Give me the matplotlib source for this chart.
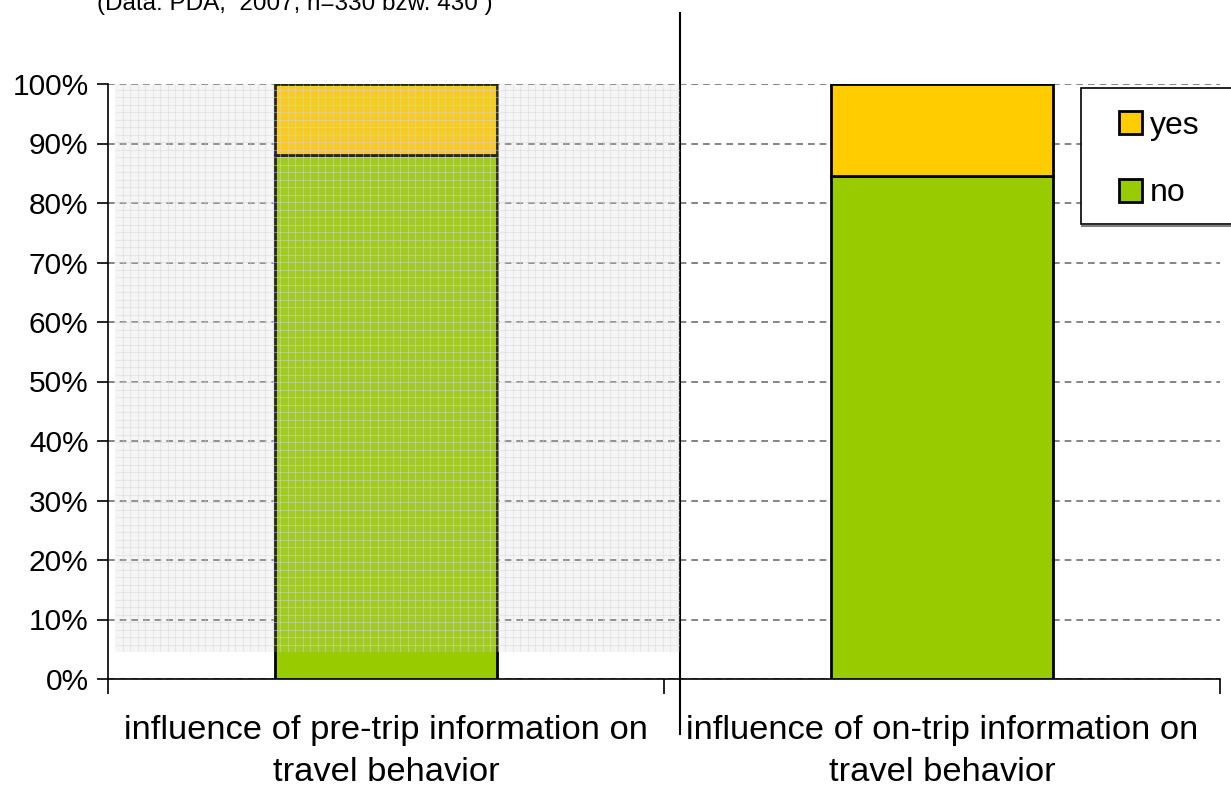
import numpy as np
import matplotlib.pyplot as plt
from matplotlib.lines import Line2D
from matplotlib.patches import Rectangle

plt.rcParams['font.family'] = ['Liberation Sans', 'DejaVu Sans']

# survey answers, share of respondents in %
categories = ['influence of pre-trip information on\ntravel behavior',
              'influence of on-trip information on\ntravel behavior']
share_no = [88.0, 84.5]
share_yes = [12.0, 15.5]
yticks = [0, 10, 20, 30, 40, 50, 60, 70, 80, 90, 100]
ytick_labels = ['%d%%' % v for v in yticks]
title = '(Data: PDA,  2007, n=330 bzw. 430 )'

col_no = '#99CC00'
col_yes = '#FFCC00'

W, H = 1231, 787
fig = plt.figure(figsize=(W / 100, H / 100), dpi=100)
ax = fig.add_axes([108 / W, 1 - 679 / H, (1220 - 108) / W, (679 - 84) / H])

x = np.arange(len(categories))
ax.bar(x, share_no, width=0.4, color=col_no, edgecolor='black', linewidth=2, zorder=3, label='no')
ax.bar(x, share_yes, bottom=share_no, width=0.4, color=col_yes, edgecolor='black', linewidth=2,
       zorder=3, label='yes')

ax.set_xlim(-0.5, len(categories) - 0.5)
ax.set_ylim(0, 100)
ax.set_yticks(yticks)
ax.set_yticklabels(ytick_labels, fontsize=21.5)
ax.tick_params(axis='y', direction='out', length=8, width=1.2, pad=6)

# category boundaries carry the tick marks, labels sit in between
ax.set_xticks(np.arange(len(categories) + 1) - 0.5)
ax.set_xticklabels([])
ax.tick_params(axis='x', which='major', direction='out', length=11, width=1.2)
ax.set_xticks(x, minor=True)
ax.set_xticklabels(categories, minor=True, fontsize=24.8, linespacing=1.45)
ax.tick_params(axis='x', which='minor', length=0, pad=26)

for s in ['top', 'right']:
    ax.spines[s].set_visible(False)
for s in ['left', 'bottom']:
    ax.spines[s].set_linewidth(1.2)

ax.yaxis.grid(True, linestyle=(0, (4, 3)), color='#707070', linewidth=1.2, zorder=1)
ax.set_axisbelow(True)

# fine screen mesh over the left half
ov = fig.add_axes([115 / W, 1 - 652 / H, (680 - 115) / W, (652 - 84) / H], zorder=5)
ov.set_xlim(0, 565)
ov.set_ylim(0, 568)
ov.axis('off')
ov.patch.set_alpha(0)
ov.add_patch(Rectangle((0, 0), 565, 568, facecolor='#c8c8c8', alpha=0.18, edgecolor='none'))
step = 7.5
ov.vlines(np.arange(step, 565, step), 0, 568, color='#d6d6d6', alpha=0.45, linewidth=0.8)
ov.hlines(np.arange(step, 568, step), 0, 565, color='#d6d6d6', alpha=0.45, linewidth=0.8)

# separator between the two panels
fig.add_artist(Line2D([680 / W, 680 / W], [1 - 13 / H, 1 - 734 / H], color='black', linewidth=1.5))

fig.text(97 / W, 1 - 10 / H, title, fontsize=17.5, ha='left', va='baseline')

# legend box runs off the right edge
fig.add_artist(Rectangle((1081 / W, 1 - 224 / H), 200 / W, (224 - 88) / H,
                         facecolor='white', edgecolor='black', linewidth=1.2, zorder=6))
fig.add_artist(Line2D([1082 / W, 1 / 1], [1 - 225.5 / H, 1 - 225.5 / H], color='#808080',
                      linewidth=1.5, zorder=6))
handles, labels = ax.get_legend_handles_labels()
leg = fig.legend(handles[::-1], labels[::-1], loc='upper left',
                 bbox_to_anchor=(1119 / W, 1 - 111 / H),
                 fontsize=23, frameon=False,
                 handlelength=0.72, handleheight=0.72, handletextpad=0.25,
                 labelspacing=1.17, borderpad=0, borderaxespad=0)
leg.set_zorder(7)

fig.savefig('out.png', dpi=100)
